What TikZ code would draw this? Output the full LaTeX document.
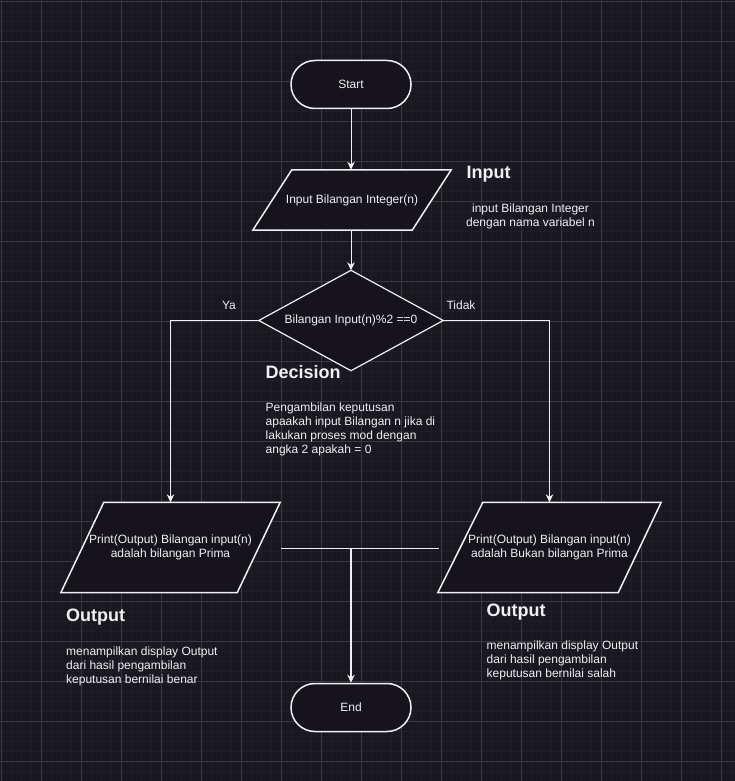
\documentclass[tikz,border=0pt]{standalone}
\usepackage{fontspec}
\setmainfont{Liberation Sans}
\usetikzlibrary{arrows.meta}

\definecolor{canvas}{RGB}{25,23,31}
\definecolor{gridminor}{RGB}{31,29,38}
\definecolor{gridmajor}{RGB}{58,56,66}
\definecolor{shapefill}{RGB}{23,19,28}
\definecolor{ink}{RGB}{240,240,240}

\pgfdeclarelayer{gridlayer}
\pgfdeclarelayer{shapelayer}
\pgfsetlayers{gridlayer,shapelayer,main}

\begin{document}
\begin{tikzpicture}[x=1pt,y=-1pt,
  txt/.style={font=\fontsize{12}{14}\selectfont, text=ink, inner sep=0pt},
  title/.style={font=\bfseries\fontsize{18}{21}\selectfont, text=ink, inner sep=0pt, anchor=base west},
  terminal/.style={txt, draw=ink, fill=shapefill, line width=1.5pt,
    rounded corners=24pt, minimum width=120pt, minimum height=48pt},
  iobox/.style={txt, align=center, minimum height=90pt},
  outline/.style={draw=ink, fill=shapefill, line width=1.5pt, line join=miter},
  conn/.style={draw=ink, line width=1pt},
  flow/.style={conn, -{Stealth[length=8pt,width=7.5pt,inset=2.5pt]}},
  note/.style={txt, align=left, anchor=north west},
]
\useasboundingbox (0,0) rectangle (735,781);

% canvas and grid
\begin{pgfonlayer}{gridlayer}
  \fill[canvas] (0,0) rectangle (735,781);
  \foreach \i in {1,11,...,731} \draw[gridminor, line width=0.6pt] (\i,0) -- (\i,781);
  \foreach \j in {1,11,...,781} \draw[gridminor, line width=0.6pt] (0,\j) -- (735,\j);
  \foreach \i in {1,41,...,721} \draw[gridmajor, line width=0.7pt] (\i,0) -- (\i,781);
  \foreach \j in {1,41,...,761} \draw[gridmajor, line width=0.7pt] (0,\j) -- (735,\j);
\end{pgfonlayer}

% flowchart nodes
\node[terminal] (start) at (351,84.5) {Start};
\node[iobox, minimum width=198pt, minimum height=60pt] (in) at (352,200) {Input Bilangan Integer(n)};
\node[txt, minimum width=184pt, minimum height=100pt] (dec) at (351,320.5) {Bilangan Input(n)\%2 ==0};
\node[iobox, minimum width=219pt] (lo) at (170.5,547.5) {Print(Output) Bilangan input(n)\\adalah bilangan Prima};
\node[iobox, minimum width=223pt] (ro) at (549.5,547.5) {Print(Output) Bilangan input(n)\\adalah Bukan bilangan Prima};
\node[terminal] (end) at (351,707.5) {End};

% shape outlines
\begin{pgfonlayer}{shapelayer}
  \draw[outline] ([xshift=39pt]in.north west) -- (in.north east)
    -- ([xshift=-39pt]in.south east) -- (in.south west) -- cycle;
  \draw[outline, line width=1.2pt] (dec.north) -- (dec.east) -- (dec.south) -- (dec.west) -- cycle;
  \draw[outline] ([xshift=43pt]lo.north west) -- (lo.north east)
    -- ([xshift=-43pt]lo.south east) -- (lo.south west) -- cycle;
  \draw[outline] ([xshift=45pt]ro.north west) -- (ro.north east)
    -- ([xshift=-43pt]ro.south east) -- (ro.south west) -- cycle;
\end{pgfonlayer}

% connectors
\draw[flow] (start.south) -- (in.north -| start.south);
\draw[flow] (in.south -| dec.north) -- (dec.north);
\draw[flow] (dec.west) -| (lo.north);
\draw[flow] (dec.east) -| (ro.north);
\coordinate (joinL) at (281,548);
\coordinate (joinR) at (439,548);
\coordinate (joinM) at (351,548);
\draw[conn] (joinL) -- (joinR);
\draw[flow, line width=1.6pt] (joinM) -- (end.north);

% branch labels
\node[txt, anchor=base] (ya) at (229,309) {Ya};
\node[txt, anchor=base] (tidak) at (461,309) {Tidak};

% annotations
\node[title] (tIn) at (466.5,178.3) {Input};
\node[txt, align=center, anchor=north] (nIn) at (530.5,203.2) {input Bilangan Integer\\dengan nama variabel n};

\node[title] (tDec) at (265.5,378.3) {Decision};
\node[note] (nDec) at (265.5,403) {Pengambilan keputusan\\apaakah input Bilangan n jika di\\lakukan proses mod dengan\\angka 2 apakah = 0};

\node[title] (tOutL) at (66,621) {Output};
\node[note] (nOutL) at (66,646.2) {menampilkan display Output\\dari hasil pengambilan\\keputusan bernilai benar};

\node[title] (tOutR) at (486.5,616) {Output};
\node[note] (nOutR) at (486.5,640.5) {menampilkan display Output\\dari hasil pengambilan\\keputusan bernilai salah};
\end{tikzpicture}
\end{document}
